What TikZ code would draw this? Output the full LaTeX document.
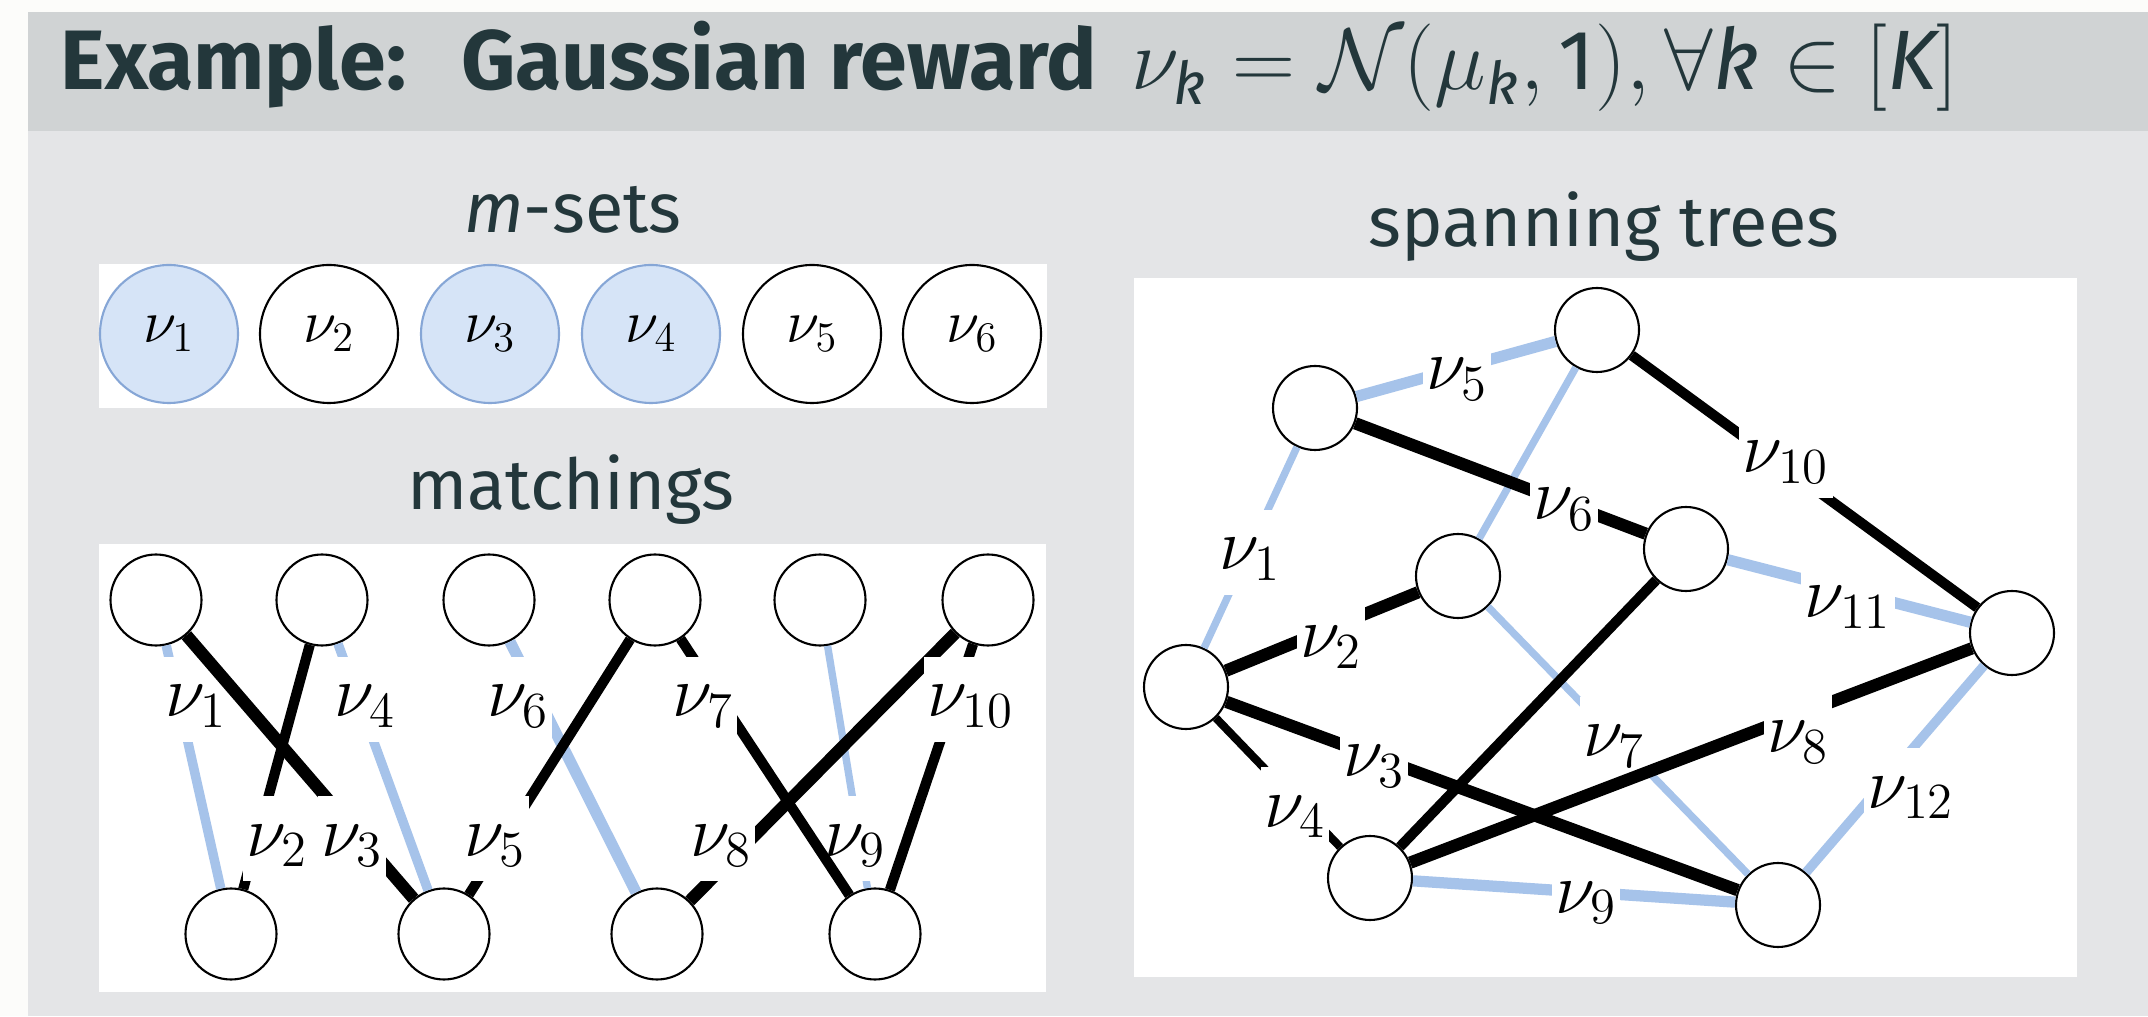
\documentclass[tikz,border=0pt]{standalone}
\usepackage{amsmath}
\usepackage{fontspec}
\setsansfont{Fira Sans}
\usepackage{xcolor}
\usepackage{tikz}

\definecolor{pagebg}{HTML}{FCFCFA}
\definecolor{framebg}{HTML}{E4E5E7}
\definecolor{titlebg}{HTML}{D0D3D4}
\definecolor{darkteal}{HTML}{23373B}
\definecolor{armblue}{HTML}{A6C3EA}
\definecolor{setfill}{HTML}{D6E4F7}
\definecolor{setline}{HTML}{86A6D6}

\newcommand{\sfit}[1]{\text{\mdseries\itshape #1}}

\begin{document}
\begin{tikzpicture}[
  arm/.style={draw, circle, line width=0.6pt, fill=white, minimum size=13.8mm,
              inner sep=0pt, font=\fontsize{18}{22}\selectfont},
  armsel/.style={arm, draw=setline, fill=setfill},
  vtx/.style={draw, circle, line width=0.6pt, fill=white, inner sep=0pt},
  mvtx/.style={vtx, minimum size=9.1mm},
  tvtx/.style={vtx, minimum size=8.4mm},
  lab/.style={fill=white, inner sep=1pt, text height=16pt, text depth=6pt,
              anchor=base, font=\fontsize{21}{25}\selectfont},
  bk/.style={line width=2.9pt, black},
  bkw/.style={line width=3.5pt, black},
  bkn/.style={line width=2.3pt, black},
  bl/.style={line width=2.7pt, armblue},
  blw/.style={line width=3.2pt, armblue},
  bln/.style={line width=2.1pt, armblue},
  ttl/.style={font=\sffamily\fontsize{20}{24}\selectfont, text=darkteal,
              anchor=base, inner sep=0pt},
]
\useasboundingbox (0,0) rectangle (21.48,10.16);
\fill[pagebg] (0,0) rectangle (21.48,10.16);
\fill[framebg] (0.28,0) rectangle (21.48,10.04);
\fill[titlebg] (0.28,8.85) rectangle (21.48,10.04);

\node[anchor=base west, inner sep=0pt, text=darkteal,
      font=\sffamily\bfseries\fontsize{24}{29}\selectfont] (title) at (0.60,9.26)
  {Example:\hspace{8pt} Gaussian reward\hspace{4pt} $\nu_{\sfit{k}} = \mathcal{N}(\mu_{\sfit{k}},\text{\mdseries 1}), \forall \sfit{k} \in [\sfit{K}]$};

% panel titles and white panels
\node[ttl] (msetsttl) at (5.73,7.83) {{\itshape m}-sets};
\node[ttl] (matchttl) at (5.71,5.06) {matchings};
\node[ttl] (treesttl) at (16.04,7.69) {spanning trees};
\fill[white] (0.99,6.08) rectangle (10.47,7.52);
\fill[white] (0.99,0.24) rectangle (10.46,4.72);
\fill[white] (11.34,0.39) rectangle (20.77,7.38);

% m-sets
\foreach \i/\x/\s in {1/1.69/armsel,2/3.29/arm,3/4.90/armsel,4/6.51/armsel,5/8.12/arm,6/9.72/arm}
  \node[\s] (s\i) at (\x,6.82) {$\nu_{\i}$};

% matchings
\foreach \i/\x in {1/1.56,2/3.22,3/4.89,4/6.55,5/8.20,6/9.88}
  \node[mvtx] (t\i) at (\x,4.16) {};
\foreach \i/\x in {1/2.31,2/4.44,3/6.57,4/8.75}
  \node[mvtx] (b\i) at (\x,0.82) {};

\draw[bl] (t1) -- (b1);   \node[lab] (m1) at (1.96,2.99) {$\nu_1$};
\draw[bl] (t2) -- (b2);   \node[lab] (m4) at (3.65,2.99) {$\nu_4$};
\draw[blw] (t3) -- (b3);  \node[lab] (m6) at (5.18,2.99) {$\nu_6$};
\draw[bln] (t5) -- (b4);  \node[lab] (m9) at (8.55,1.60) {$\nu_9$};
\draw[bk] (t2) -- (b1);   \node[lab] (m2) at (2.77,1.60) {$\nu_2$};
\draw[bkw] (t1) -- (b2);  \node[lab] (m3) at (3.52,1.60) {$\nu_3$};
\draw[bk] (t4) -- (b2);   \node[lab] (m5) at (4.95,1.60) {$\nu_5$};
\draw[bk] (t4) -- (b4);   \node[lab] (m7) at (7.03,2.99) {$\nu_7$};
\draw[bkw] (t6) -- (b3);  \node[lab] (m8) at (7.21,1.60) {$\nu_8$};
\draw[bk] (t6) -- (b4);   \node[lab] (m10) at (9.71,2.99) {$\nu_{10}$};

% spanning trees
\node[tvtx] (v1) at (13.15,6.08) {};
\node[tvtx] (v2) at (15.97,6.86) {};
\node[tvtx] (v3) at (16.86,4.67) {};
\node[tvtx] (v4) at (14.58,4.40) {};
\node[tvtx] (v5) at (20.12,3.83) {};
\node[tvtx] (v6) at (11.86,3.29) {};
\node[tvtx] (v7) at (13.70,1.38) {};
\node[tvtx] (v8) at (17.78,1.11) {};

\draw[bln] (v2) -- (v4);
\draw[bln] (v1) -- (v6);  \node[lab] (e1) at (12.50,4.46) {$\nu_1$};
\draw[blw] (v1) -- (v2);  \node[lab] (e5) at (14.57,6.26) {$\nu_5$};
\draw[bln] (v4) -- (v8);  \node[lab] (e7) at (16.14,2.59) {$\nu_7$};
\draw[blw] (v7) -- (v8);  \node[lab] (e9) at (15.86,1.03) {$\nu_9$};
\draw[blw] (v3) -- (v5);  \node[lab] (e11) at (18.48,3.98) {$\nu_{11}$};
\draw[bl] (v5) -- (v8);   \node[lab] (e12) at (19.11,2.08) {$\nu_{12}$};
\draw[bk] (v3) -- (v7);
\draw[bkw] (v6) -- (v4);  \node[lab] (e2) at (13.31,3.58) {$\nu_2$};
\draw[bkw] (v6) -- (v8);  \node[lab] (e3) at (13.74,2.39) {$\nu_3$};
\draw[bkn] (v6) -- (v7);  \node[lab] (e4) at (12.95,1.89) {$\nu_4$};
\draw[bkw] (v1) -- (v3);  \node[lab] (e6) at (15.64,4.96) {$\nu_6$};
\draw[bkw] (v7) -- (v5);  \node[lab] (e8) at (17.98,2.63) {$\nu_8$};
\draw[bk] (v2) -- (v5);   \node[lab] (e10) at (17.86,5.43) {$\nu_{10}$};
\end{tikzpicture}
\end{document}
